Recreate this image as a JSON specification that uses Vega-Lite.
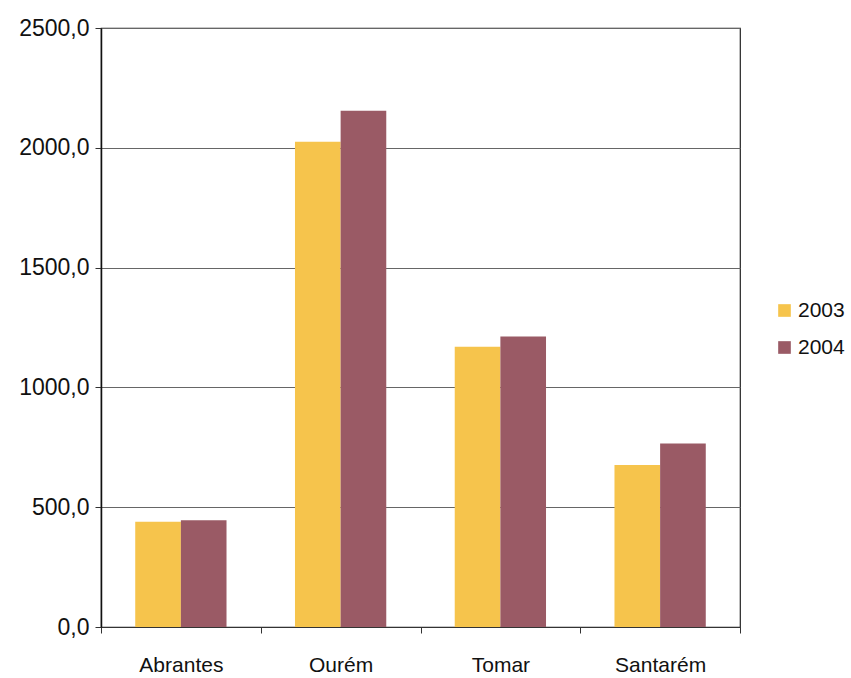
{
  "$schema": "https://vega.github.io/schema/vega-lite/v6.json",
  "width": 639,
  "height": 599,
  "autosize": {"type": "none"},
  "padding": {"left": 101, "top": 28, "right": 111, "bottom": 51},
  "background": "white",
  "config": {
    "view": {"stroke": "#222", "strokeWidth": 1.2},
    "font": "Liberation Sans"
  },
  "data": {
    "values": [
      {"concelho": "Abrantes", "ano": "2003", "valor": 439},
      {"concelho": "Abrantes", "ano": "2004", "valor": 446},
      {"concelho": "Ourém", "ano": "2003", "valor": 2025},
      {"concelho": "Ourém", "ano": "2004", "valor": 2155},
      {"concelho": "Tomar", "ano": "2003", "valor": 1170},
      {"concelho": "Tomar", "ano": "2004", "valor": 1212},
      {"concelho": "Santarém", "ano": "2003", "valor": 676},
      {"concelho": "Santarém", "ano": "2004", "valor": 766}
    ]
  },
  "mark": {"type": "bar"},
  "encoding": {
    "x": {
      "field": "concelho",
      "type": "nominal",
      "sort": ["Abrantes", "Ourém", "Tomar", "Santarém"],
      "scale": {"paddingInner": 0, "paddingOuter": 0},
      "axis": {
        "title": null,
        "labelAngle": 0,
        "labelFont": "Liberation Sans",
        "labelFontSize": 21,
        "labelColor": "#111",
        "labelPadding": 21,
        "tickBand": "extent",
        "tickSize": 6,
        "tickColor": "#333",
        "domainColor": "#333",
        "domainWidth": 1.2,
        "grid": false
      }
    },
    "xOffset": {"field": "ano", "type": "nominal", "sort": ["2003", "2004"], "scale": {"paddingInner": 0, "paddingOuter": 0.75}},
    "y": {
      "field": "valor",
      "type": "quantitative",
      "scale": {"domain": [0, 2500], "nice": false},
      "axis": {
        "title": null,
        "values": [0, 500, 1000, 1500, 2000, 2500],
        "labelExpr": "replace(format(datum.value, '.1f'), '.', ',')",
        "labelFontSize": 23,
        "labelColor": "#111",
        "labelPadding": 6,
        "tickSize": 6,
        "tickColor": "#333",
        "domainColor": "#111",
        "domainWidth": 1.5,
        "grid": true,
        "gridColor": "#666",
        "gridWidth": 1
      }
    },
    "color": {
      "field": "ano",
      "type": "nominal",
      "scale": {"domain": ["2003", "2004"], "range": ["#F6C44C", "#9A5A65"]},
      "legend": {
        "title": null,
        "orient": "none",
        "legendX": 673,
        "legendY": 272,
        "padding": 0,
        "symbolType": "square",
        "symbolSize": 160,
        "symbolStrokeWidth": 0,
        "labelFontSize": 21,
        "labelColor": "#111",
        "labelOffset": 3,
        "rowPadding": 15
      }
    }
  }
}
